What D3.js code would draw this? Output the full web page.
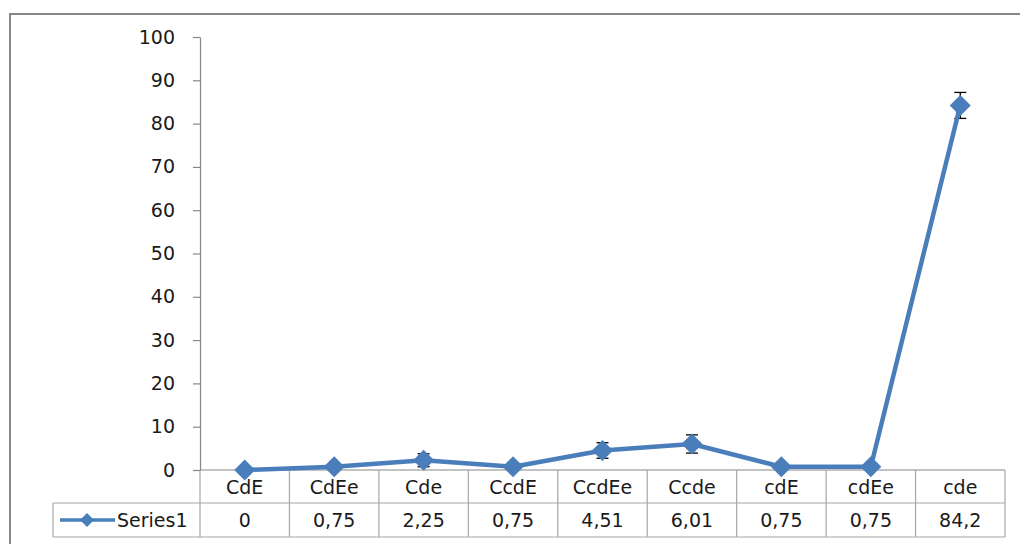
<!DOCTYPE html>
<html>
<head>
<meta charset="utf-8">
<script src="https://cdn.jsdelivr.net/npm/d3@7"></script>
<style>
  html, body { margin: 0; padding: 0; background: #fff; }
  svg { display: block; }
  text { font-family: "DejaVu Sans", sans-serif; fill: #1a1a1a; }
</style>
</head>
<body>
<script>
// ---- data ----
const categories = ["CdE", "CdEe", "Cde", "CcdE", "CcdEe", "Ccde", "cdE", "cdEe", "cde"];
const values = [0, 0.75, 2.25, 0.75, 4.51, 6.01, 0.75, 0.75, 84.2];
const valueLabels = ["0", "0,75", "2,25", "0,75", "4,51", "6,01", "0,75", "0,75", "84,2"];
const errors = [0, 0.3, 1.5, 0.3, 1.8, 2.1, 0.3, 0.3, 3.0];
const yTicks = [0, 10, 20, 30, 40, 50, 60, 70, 80, 90, 100];
const seriesName = "Series1";

(function () {
// ---- layout ----
const W = 1020, H = 544;
const pLeft = 200, pRight = 1005, pTop = 37, pBottom = 470;
const row1 = 503, row2 = 537, tableLeft = 53;
const blue = "#4a7ebb", gridCol = "#a6a6a6", axisCol = "#868686";

const svg = d3.select("body").append("svg").attr("width", W).attr("height", H);

// outer frame
svg.append("rect").attr("x", 10).attr("y", 14).attr("width", 1040).attr("height", 600)
  .attr("fill", "#fff").attr("stroke", axisCol).attr("stroke-width", 2);

const x = d3.scaleBand().domain(categories).range([pLeft, pRight]).padding(0);
const y = d3.scaleLinear().domain([0, 100]).range([pBottom, pTop]);

// y axis
const yAxis = svg.append("g").attr("transform", `translate(${pLeft},0)`)
  .call(d3.axisLeft(y).tickValues(yTicks).tickSize(7).tickSizeOuter(0).tickPadding(18).tickFormat(d3.format("d")));
yAxis.select(".domain").attr("stroke", axisCol).attr("stroke-width", 1.2);
yAxis.selectAll(".tick line").attr("stroke", axisCol).attr("stroke-width", 1.2);
yAxis.selectAll(".tick text").style("font-size", "19px").attr("fill", "#1a1a1a")
  .style("font-family", "'DejaVu Sans', sans-serif");

// table grid
const g = svg.append("g").attr("stroke", gridCol).attr("stroke-width", 1.2);
g.append("line").attr("x1", pLeft).attr("x2", pRight).attr("y1", pBottom).attr("y2", pBottom).attr("stroke", axisCol);
g.append("line").attr("x1", tableLeft).attr("x2", pRight).attr("y1", row1).attr("y2", row1);
g.append("line").attr("x1", tableLeft).attr("x2", pRight).attr("y1", row2).attr("y2", row2);
g.append("line").attr("x1", tableLeft).attr("x2", tableLeft).attr("y1", row1).attr("y2", row2);
const bounds = categories.map(c => x(c)).concat([pRight]);
g.selectAll("line.col").data(bounds).join("line").attr("class", "col")
  .attr("x1", d => d).attr("x2", d => d).attr("y1", pBottom).attr("y2", row2);

// category labels
svg.selectAll("text.cat").data(categories).join("text").attr("class", "cat")
  .attr("x", d => x(d) + x.bandwidth() / 2).attr("y", (pBottom + row1) / 2)
  .attr("text-anchor", "middle").attr("dominant-baseline", "central")
  .style("font-size", "19px").text(d => d);

// value labels
svg.selectAll("text.val").data(categories).join("text").attr("class", "val")
  .attr("x", d => x(d) + x.bandwidth() / 2).attr("y", (row1 + row2) / 2)
  .attr("text-anchor", "middle").attr("dominant-baseline", "central")
  .style("font-size", "19px").text((d, i) => valueLabels[i]);

// legend key
const ly = (row1 + row2) / 2;
svg.append("line").attr("x1", 60).attr("x2", 115).attr("y1", ly).attr("y2", ly)
  .attr("stroke", blue).attr("stroke-width", 3.5);
const lh = 7;
svg.append("path").attr("d", `M87,${ly - lh}L${87 + lh},${ly}L87,${ly + lh}L${87 - lh},${ly}Z`).attr("fill", blue);
svg.append("text").attr("x", 117).attr("y", ly).attr("dominant-baseline", "central")
  .style("font-size", "19px").text(seriesName);

// series data
const pts = categories.map((c, i) => ({ c, v: values[i], e: errors[i] }));
const cx = d => x(d.c) + x.bandwidth() / 2;

// error bars (drawn beneath)
const eb = svg.append("g").attr("stroke", "#000").attr("stroke-width", 1.3);
pts.filter(d => d.e > 0).forEach(d => {
  const X = cx(d), y1 = y(d.v + d.e), y2 = y(d.v - d.e);
  eb.append("line").attr("x1", X).attr("x2", X).attr("y1", y1).attr("y2", y2);
  eb.append("line").attr("x1", X - 6).attr("x2", X + 6).attr("y1", y1).attr("y2", y1);
  eb.append("line").attr("x1", X - 6).attr("x2", X + 6).attr("y1", y2).attr("y2", y2);
});

// line
svg.append("path").datum(pts)
  .attr("d", d3.line().x(cx).y(d => y(d.v)))
  .attr("fill", "none").attr("stroke", blue).attr("stroke-width", 4.5)
  .attr("stroke-linejoin", "round").attr("stroke-linecap", "round");

// markers (diamonds)
const dh = 10.5;
svg.selectAll("path.mk").data(pts).join("path").attr("class", "mk")
  .attr("d", d => {
    const X = cx(d), Y = y(d.v);
    return `M${X},${Y - dh}L${X + dh},${Y}L${X},${Y + dh}L${X - dh},${Y}Z`;
  })
  .attr("fill", blue);
})();
</script>
</body>
</html>
